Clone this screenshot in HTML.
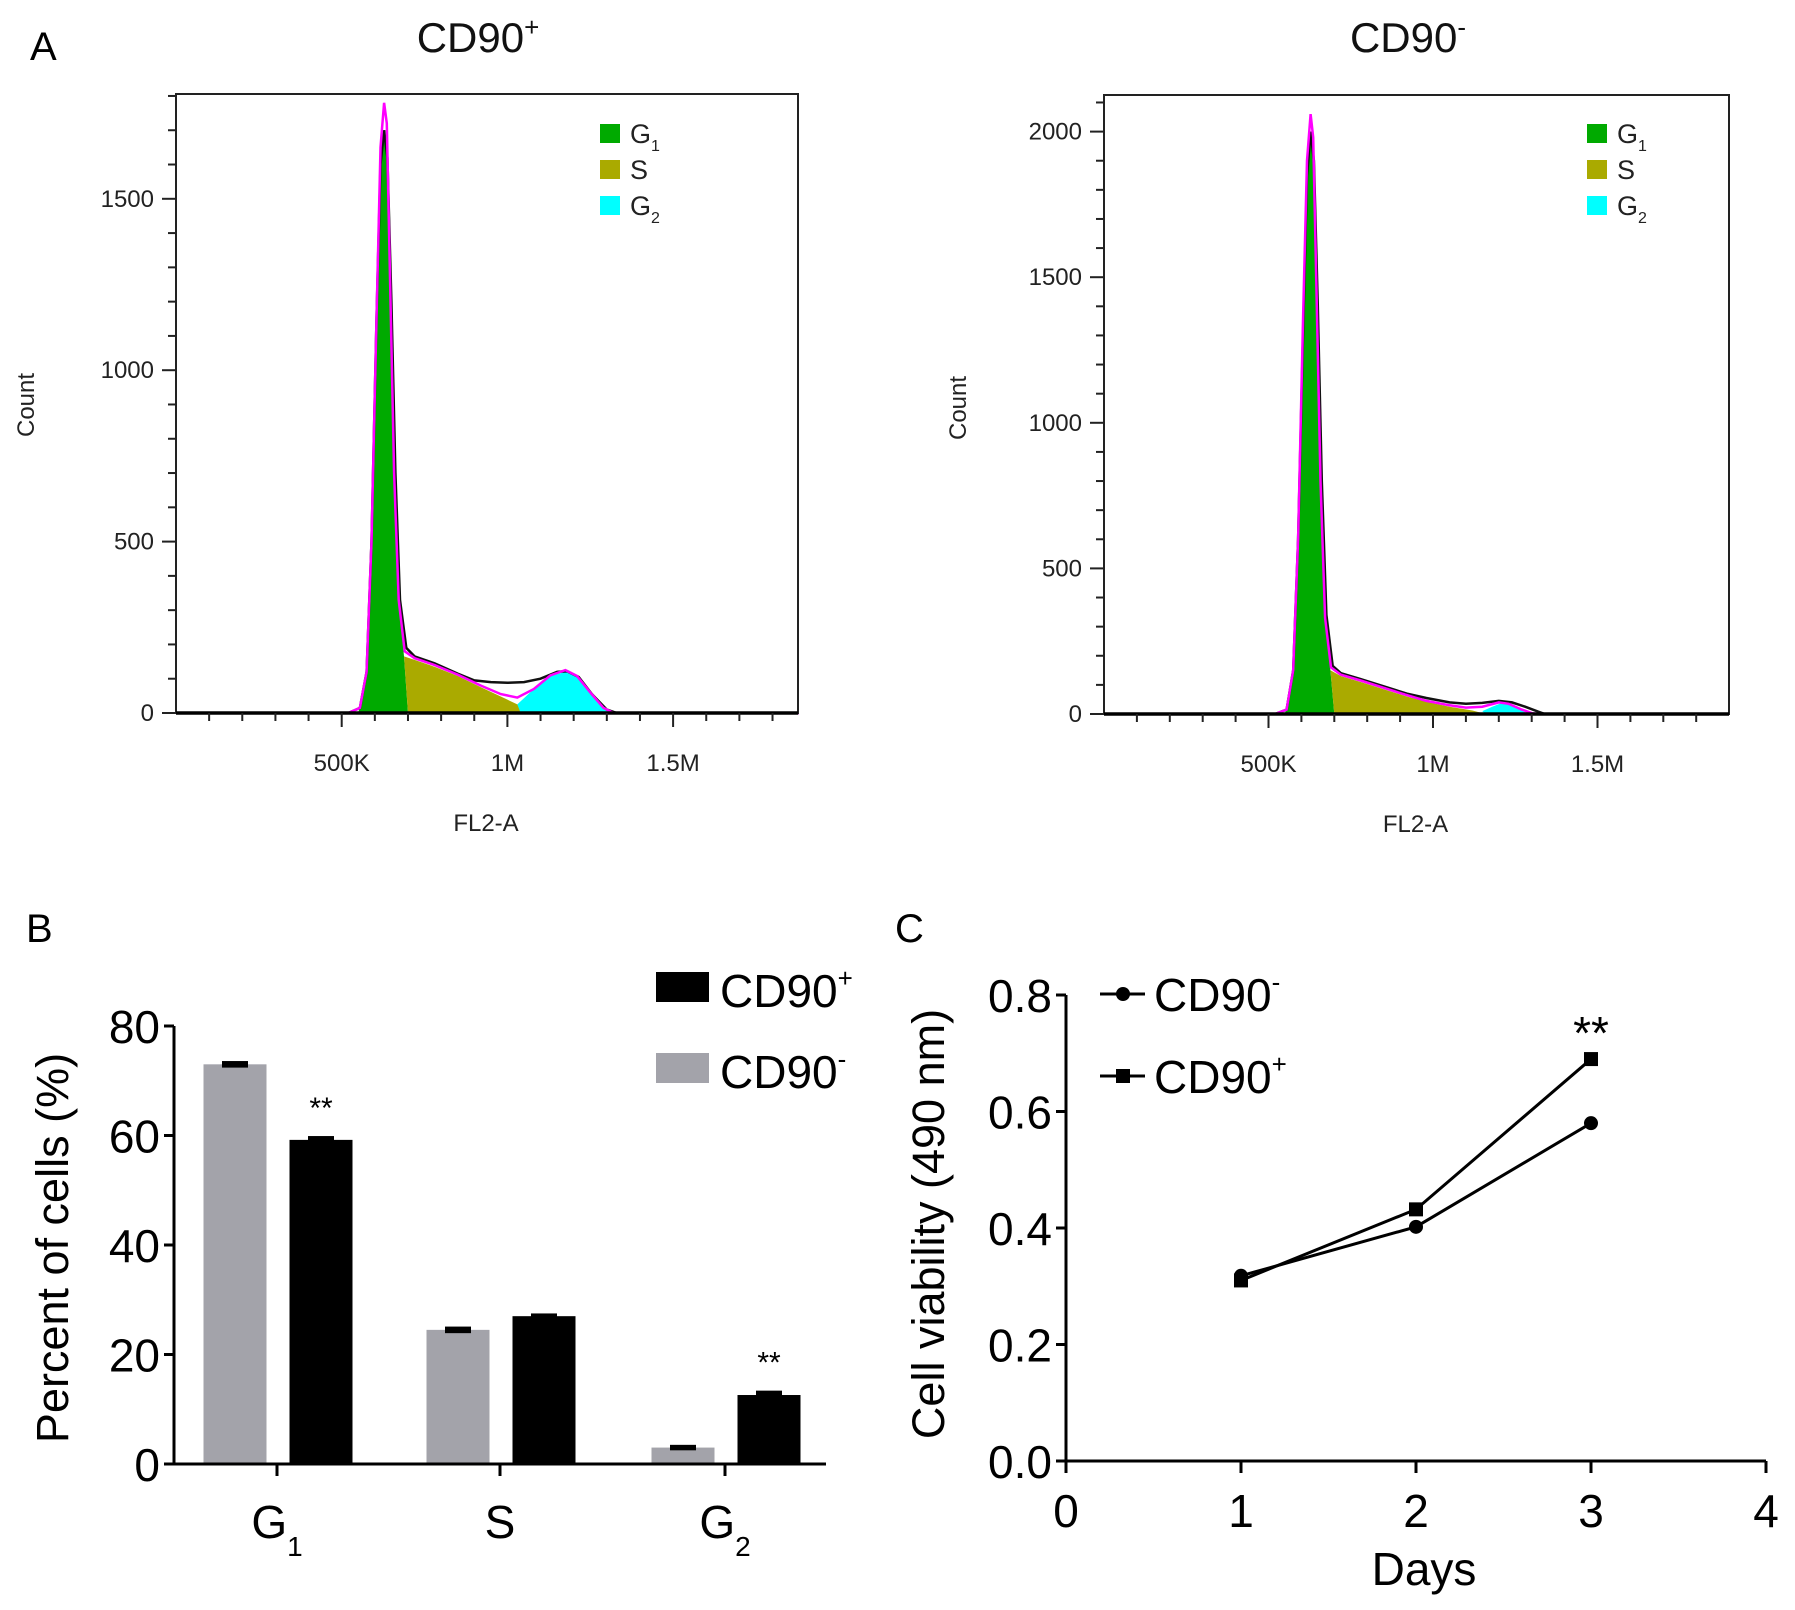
<!DOCTYPE html>
<html><head><meta charset="utf-8">
<style>
html,body{margin:0;padding:0;background:#fff;}
svg{display:block;font-family:"Liberation Sans",Arial,sans-serif;}
</style></head>
<body>
<svg id="fig" width="1795" height="1610" viewBox="0 0 1795 1610" xmlns="http://www.w3.org/2000/svg">
<rect width="1795" height="1610" fill="#fff"/>
<g id="panelA1"></g>
<g id="panelA2"></g>
<g id="panelB"></g>
<g id="panelC"></g>
<text x="30" y="60" font-size="40">A</text>
<text x="26" y="942" font-size="40">B</text>
<text x="895" y="942" font-size="40">C</text>
</svg>
<script>
const NS="http://www.w3.org/2000/svg";
// ---------- Panel A data (FL2-A in K, count) ----------
const histXTicks=[500,1000,1500];
const histXTickLabels=["500K","1M","1.5M"];
const leftYTicks=[0,500,1000,1500];
const rightYTicks=[0,500,1000,1500,2000];
const leftOutline=[[0,0],[520,0],[555,15],[575,120],[590,500],[605,1150],[617,1650],[628,1780],[636,1720],[645,1300],[658,700],[672,330],[690,180],[720,160],[780,140],[850,112],[920,80],[980,55],[1030,45],[1080,70],[1130,110],[1175,125],[1210,108],[1250,60],[1290,15],[1320,0],[1880,0]];
const leftBlack=[[0,0],[520,0],[555,15],[575,120],[590,500],[605,1150],[617,1600],[628,1700],[638,1620],[650,1200],[662,700],[676,330],[695,190],[720,165],[780,145],[850,115],[900,95],[950,90],[1000,88],[1050,90],[1100,100],[1150,120],[1180,122],[1215,105],[1255,55],[1300,10],[1330,0],[1880,0]];
const leftG1=[[550,0],[575,120],[590,500],[605,1150],[617,1650],[628,1700],[636,1650],[645,1300],[658,700],[672,330],[688,165],[700,0]];
const leftS=[[688,165],[720,155],[780,135],[850,108],[920,75],[980,48],[1030,25],[1060,0],[700,0]];
const leftG2=[[1030,25],[1080,70],[1130,108],[1175,120],[1210,105],[1250,60],[1290,15],[1310,0],[1040,0]];
const rightOutline=[[0,0],[520,0],[555,15],[575,150],[590,600],[605,1350],[617,1900],[628,2060],[636,1980],[645,1500],[658,800],[672,330],[690,160],[720,135],[780,115],[850,90],[920,65],[980,45],[1050,30],[1100,22],[1150,25],[1200,40],[1230,35],[1270,15],[1300,3],[1320,0],[1880,0]];
const rightBlack=[[0,0],[520,0],[555,15],[575,150],[590,600],[605,1300],[617,1850],[628,2000],[638,1900],[650,1400],[662,800],[676,340],[695,165],[720,140],[780,120],[850,95],[920,70],[980,55],[1050,40],[1100,35],[1150,38],[1200,45],[1240,40],[1280,25],[1320,8],[1340,0],[1880,0]];
const rightG1=[[550,0],[575,150],[590,600],[605,1350],[617,1900],[628,2000],[636,1950],[645,1500],[658,800],[672,330],[688,150],[700,0]];
const rightS=[[688,150],[720,130],[780,110],[850,85],[920,60],[980,42],[1050,25],[1120,12],[1160,0],[700,0]];
const rightG2=[[1150,10],[1180,25],[1210,38],[1240,30],[1270,12],[1290,0],[1160,0]];
const phaseNames=["G","S","G"];
const phaseSubs=["1","","2"];
const phaseColors=["#00aa00","#aaaa00","#00ffff"];

function el(tag,attrs,parent){const e=document.createElementNS(NS,tag);for(const k in attrs)e.setAttribute(k,attrs[k]);parent.appendChild(e);return e;}

function drawHist(g,cfg){
  const xs=v=>cfg.x0+v*cfg.xpx;
  const ys=v=>cfg.y0-v*cfg.ypx;
  const pts=a=>a.map(p=>xs(p[0]).toFixed(1)+","+ys(p[1]).toFixed(1)).join(" ");
  [[cfg.g1,phaseColors[0],"g1-area"],[cfg.s,phaseColors[1],"s-phase-area"],[cfg.g2,phaseColors[2],"g2-area"]].forEach(a=>{
    const p=el("polygon",{points:pts(a[0]),fill:a[1]},g);
    
    
  });
  const bl=el("polyline",{points:pts(cfg.black),fill:"none",stroke:"#111","stroke-width":2.5},g);
  
  
  const ml=el("polyline",{points:pts(cfg.outline),fill:"none",stroke:"#ff00ff","stroke-width":2.5},g);
  
  
  const box=el("rect",{x:cfg.x0,y:cfg.top,width:cfg.right-cfg.x0,height:cfg.y0-cfg.top,fill:"none",stroke:"#222","stroke-width":2},g);
  
  
  el("line",{x1:cfg.x0,y1:cfg.y0,x2:cfg.right,y2:cfg.y0,stroke:"#000","stroke-width":3.5},g);
  for(let v=100;xs(v)<cfg.right;v+=100){
    const major=v%500===0;
    el("line",{x1:xs(v),y1:cfg.y0,x2:xs(v),y2:cfg.y0+(major?14:8),stroke:"#222","stroke-width":2},g);
  }
  histXTicks.forEach((v,i)=>{
    const t=el("text",{x:xs(v),y:cfg.y0+58,"font-size":24,"text-anchor":"middle",fill:"#222"},g);
    t.textContent=histXTickLabels[i];
    
    
  });
  for(let v=100;ys(v)>cfg.top;v+=100){
    const major=v%500===0;
    el("line",{x1:cfg.x0,y1:ys(v),x2:cfg.x0-(major?14:8),y2:ys(v),stroke:"#222","stroke-width":2},g);
  }
  el("line",{x1:cfg.x0,y1:cfg.y0,x2:cfg.x0-14,y2:cfg.y0,stroke:"#222","stroke-width":2},g);
  cfg.yticks.forEach(v=>{
    const t=el("text",{x:cfg.x0-22,y:ys(v)+8,"font-size":24,"text-anchor":"end",fill:"#222"},g);
    t.textContent=String(v);
    
    
  });
  const xt=el("text",{x:(cfg.x0+cfg.right)/2-1,y:cfg.y0+118,"font-size":24,"text-anchor":"middle",fill:"#222"},g);
  xt.textContent="FL2-A";
  
  
  const yt=el("text",{x:0,y:0,"font-size":24,"text-anchor":"middle",fill:"#222",transform:`translate(${cfg.ytx},${cfg.yty}) rotate(-90)`},g);
  yt.textContent="Count";
  
  
  const title=el("text",{x:cfg.titleX,y:52,"font-size":42,"text-anchor":"middle",fill:"#111"},g);
  title.innerHTML=cfg.title;
  
  
  for(let i=0;i<3;i++){
    const ly=cfg.legY+i*36;
    const r=el("rect",{x:cfg.legX,y:ly,width:20,height:19,fill:phaseColors[i]},g);
    
    
    const t=el("text",{x:cfg.legX+30,y:ly+19,"font-size":27,fill:"#222"},g);
    t.innerHTML=phaseNames[i]+(phaseSubs[i]?`<tspan font-size="16" dy="8">${phaseSubs[i]}</tspan>`:"");
    
    
  }
}
drawHist(document.getElementById("panelA1"),{x0:176,right:798,top:94,y0:713,xpx:165.7/500,ypx:171.4/500,
  outline:leftOutline,black:leftBlack,g1:leftG1,s:leftS,g2:leftG2,yticks:leftYTicks,
  ytx:34,yty:405,titleX:478,title:'CD90<tspan font-size="26" dy="-16">+</tspan>',legX:600,legY:124});
drawHist(document.getElementById("panelA2"),{x0:1104,right:1729,top:95,y0:714,xpx:164.5/500,ypx:145.6/500,
  outline:rightOutline,black:rightBlack,g1:rightG1,s:rightS,g2:rightG2,yticks:rightYTicks,
  ytx:966,yty:408,titleX:1408,title:'CD90<tspan font-size="26" dy="-16">-</tspan>',legX:1587,legY:124});

// ---------- Panel B data ----------
const barCategories=["G","S","G"];
const barCategorySubs=["1","","2"];
const cd90NegValues=[73,24.5,3];
const cd90PosValues=[59.2,27,12.6];
const cd90NegErr=[0.6,0.6,0.5];
const cd90PosErr=[0.7,0.5,0.8];
const barYTicks=[0,20,40,60,80];
const barSignif=["**","",  "**"];
(function(){
  const g=document.getElementById("panelB");
  const x0=174,y0=1464,pxPer=109.5/20,groupX=[277,500,725],bw=63;
  const ys=v=>y0-v*pxPer;
  barCategories.forEach((c,i)=>{
    [[cd90NegValues,cd90NegErr,"#a3a3aa",-42,"bar-cd90-negative"],[cd90PosValues,cd90PosErr,"#000",44,"bar-cd90-positive"]].forEach(s=>{
      const v=s[0][i],cx=groupX[i]+s[3];
      const r=el("rect",{x:cx-bw/2,y:ys(v),width:bw,height:y0-ys(v),fill:s[2]},g);
      
      
      const e=el("rect",{x:cx-13,y:ys(v+s[1][i]),width:26,height:Math.max(4,(s[1][i]*2)*pxPer),fill:"#000"},g);
      
      
    });
    if(barSignif[i]){
      const cx=groupX[i]+44;
      const t=el("text",{x:cx,y:ys(cd90PosValues[i]+cd90PosErr[i])-18,"font-size":30,"text-anchor":"middle"},g);
      t.textContent=barSignif[i];
      
      
    }
    el("line",{x1:groupX[i],y1:y0,x2:groupX[i],y2:y0+12,stroke:"#000","stroke-width":3},g);
    const lt=el("text",{x:groupX[i],y:1538,"font-size":46,"text-anchor":"middle"},g);
    lt.innerHTML=c+(barCategorySubs[i]?`<tspan font-size="28" dy="18">${barCategorySubs[i]}</tspan>`:"");
    
    
  });
  el("line",{x1:x0,y1:ys(80),x2:x0,y2:y0,stroke:"#000","stroke-width":3},g);
  el("line",{x1:166,y1:y0,x2:826,y2:y0,stroke:"#000","stroke-width":3},g);
  barYTicks.forEach(v=>{
    el("line",{x1:x0,y1:ys(v),x2:x0-10,y2:ys(v),stroke:"#000","stroke-width":3},g);
    const t=el("text",{x:x0-14,y:ys(v)+17,"font-size":46,"text-anchor":"end"},g);
    t.textContent=String(v);
    
    
  });
  const yt=el("text",{x:0,y:0,"font-size":45,"text-anchor":"middle",transform:"translate(68,1248) rotate(-90)"},g);
  yt.textContent="Percent of cells (%)";
  
  
  const items=[["#000","CD90","+",972],["#a3a3aa","CD90","-",1053]];
  items.forEach(it=>{
    const r=el("rect",{x:656,y:it[3],width:53,height:30,fill:it[0]},g);
    
    
    const t=el("text",{x:720,y:it[3]+35,"font-size":46},g);
    t.innerHTML=it[1]+`<tspan font-size="26" dy="-20">${it[2]}</tspan>`;
    
    
  });
})();

// ---------- Panel C data ----------
const days=[1,2,3];
const cd90NegViability=[0.318,0.402,0.58];
const cd90PosViability=[0.31,0.432,0.69];
const viabilityYTicks=[0.0,0.2,0.4,0.6,0.8];
const dayTicks=[0,1,2,3,4];
(function(){
  const g=document.getElementById("panelC");
  const x0=1066,y0=1461,xpx=175,ypx=116.5/0.2;
  const xs=v=>x0+v*xpx, ys=v=>y0-v*ypx;
  el("line",{x1:x0,y1:ys(0.8),x2:x0,y2:y0,stroke:"#000","stroke-width":3},g);
  el("line",{x1:x0,y1:y0,x2:xs(4),y2:y0,stroke:"#000","stroke-width":3},g);
  viabilityYTicks.forEach(v=>{
    el("line",{x1:x0,y1:ys(v),x2:x0-10,y2:ys(v),stroke:"#000","stroke-width":3},g);
    const t=el("text",{x:x0-14,y:ys(v)+17,"font-size":46,"text-anchor":"end"},g);
    t.textContent=v.toFixed(1);
    
    
  });
  dayTicks.forEach(v=>{
    el("line",{x1:xs(v),y1:y0,x2:xs(v),y2:y0+12,stroke:"#000","stroke-width":3},g);
    const t=el("text",{x:xs(v),y:1527,"font-size":46,"text-anchor":"middle"},g);
    t.textContent=String(v);
    
    
  });
  const xt=el("text",{x:1424,y:1585,"font-size":46,"text-anchor":"middle"},g);
  xt.textContent="Days";
  
  
  const yt=el("text",{x:0,y:0,"font-size":45,"text-anchor":"middle",transform:"translate(944,1224) rotate(-90)"},g);
  yt.textContent="Cell viability (490 nm)";
  
  
  [[cd90NegViability,"circle","line-cd90-negative"],[cd90PosViability,"square","line-cd90-positive"]].forEach(s=>{
    const pl=el("polyline",{points:days.map((d,i)=>xs(d)+","+ys(s[0][i])).join(" "),fill:"none",stroke:"#000","stroke-width":3},g);
    
    
    days.forEach((d,i)=>{
      let m;
      if(s[1]==="circle") m=el("circle",{cx:xs(d),cy:ys(s[0][i]),r:7,fill:"#000"},g);
      else m=el("rect",{x:xs(d)-7,y:ys(s[0][i])-7,width:14,height:14,fill:"#000"},g);
      
      
    });
  });
  const st=el("text",{x:xs(3),y:ys(cd90PosViability[2])-10,"font-size":46,"text-anchor":"middle"},g);
  st.textContent="**";
  
  
  [["circle","-",994],["square","+",1076]].forEach(it=>{
    el("line",{x1:1100,y1:it[2],x2:1145,y2:it[2],stroke:"#000","stroke-width":3},g);
    let m;
    if(it[0]==="circle") m=el("circle",{cx:1123,cy:it[2],r:7,fill:"#000"},g);
    else m=el("rect",{x:1116,y:it[2]-7,width:14,height:14,fill:"#000"},g);
    
    
    const t=el("text",{x:1154,y:it[2]+17,"font-size":46},g);
    t.innerHTML=`CD90<tspan font-size="26" dy="-20">${it[1]}</tspan>`;
    
    
  });
})();
</script>
</body></html>
